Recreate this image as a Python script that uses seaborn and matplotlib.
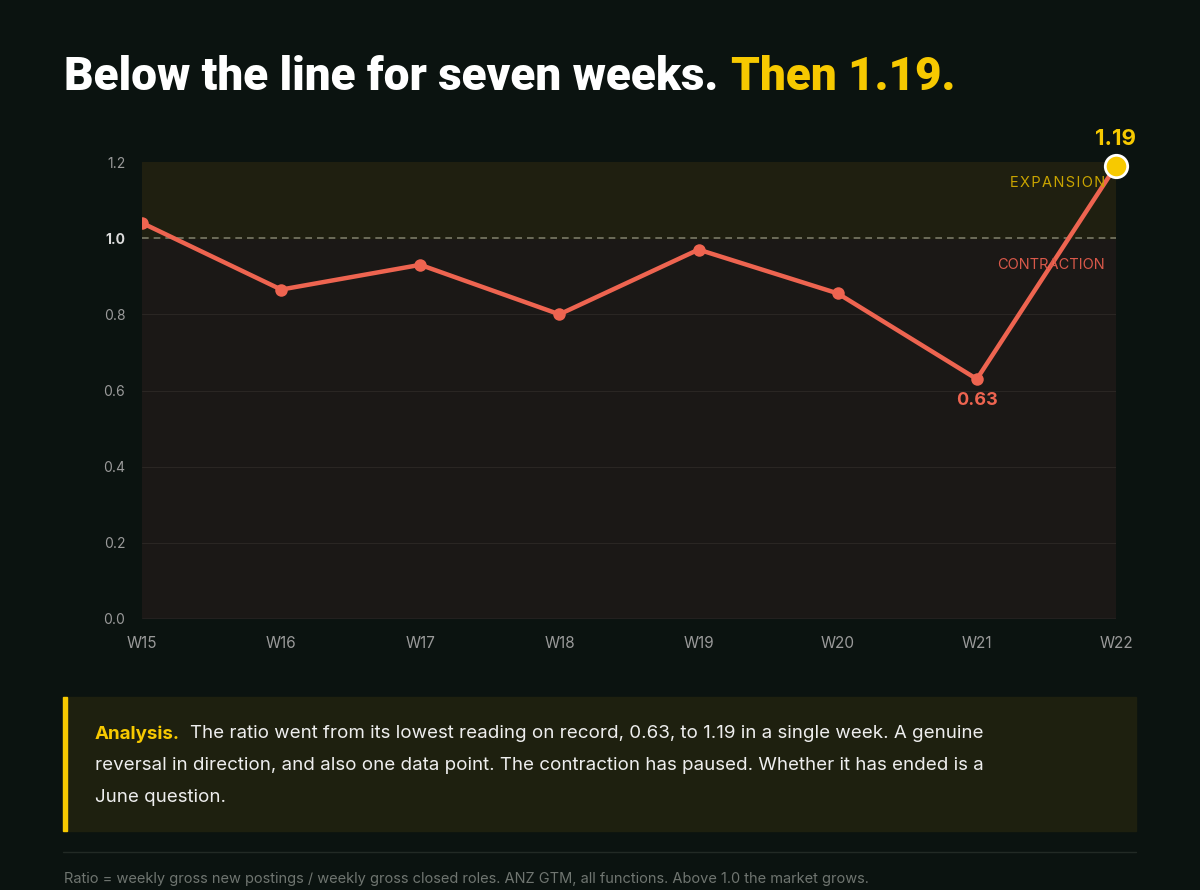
import matplotlib
matplotlib.use("Agg")
import matplotlib.pyplot as plt
import seaborn as sns
import pandas as pd
from matplotlib.patches import Rectangle

weeks = ["W15", "W16", "W17", "W18", "W19", "W20", "W21", "W22"]
ratio = [1.04, 0.865, 0.93, 0.80, 0.97, 0.855, 0.63, 1.19]
yticks = [0.0, 0.2, 0.4, 0.6, 0.8, 1.0, 1.2]

BG = "#0b1310"
RED = "#ee6450"
YEL = "#f7c900"
sns.set_style("dark")
plt.rcParams['font.family'] = ['Inter', 'DejaVu Sans']

fig = plt.figure(figsize=(12, 8.9), dpi=100, facecolor=BG)
ax = fig.add_axes([142/1200, 1-619/890, (1116-142)/1200, (619-162)/890])
ax.set_facecolor("#1b1816")
df = pd.DataFrame({"x": range(len(weeks)), "y": ratio})
ax.axhspan(1.0, 1.2, color="#1f1f10", zorder=0)
for t in yticks[1:-1]:
    if t != 1.0:
        ax.axhline(t, color="#2a2623", lw=0.8, zorder=1)
ax.axhline(1.0, color="#7a7a66", lw=1.2, ls=(0, (4, 3)), zorder=1)
ax.axhline(0.0, color="#444", lw=1, zorder=1)
sns.lineplot(data=df, x="x", y="y", ax=ax, color=RED, lw=3.2, marker="o",
             markersize=9, markeredgewidth=0, zorder=3)
ax.scatter([df.x.iloc[-1]], [df.y.iloc[-1]], s=260, color=YEL, edgecolor="white",
           linewidth=2, zorder=5, clip_on=False)
ax.set_xlim(0, len(weeks) - 1)
ax.set_ylim(0, 1.2)
ax.set_xticks(range(len(weeks)))
ax.set_xticklabels(weeks, color="#9a9a9a", fontsize=11)
ax.set_yticks(yticks)
ax.set_yticklabels([f"{t:.1f}" for t in yticks], color="#9a9a9a", fontsize=10)
for lab in ax.get_yticklabels():
    if lab.get_text() == "1.0":
        lab.set_color("#dddddd"); lab.set_fontweight("bold")
ax.tick_params(length=0, pad=12)
ax.set_xlabel(""); ax.set_ylabel("")
for s in ax.spines.values():
    s.set_visible(False)
ax.grid(False)

ax.text(6, ratio[6] - 0.035, "0.63", color=RED, fontsize=13, fontweight="bold",
        ha="center", va="top")
ax.text(7, ratio[7] + 0.045, "1.19", color=YEL, fontsize=16, fontweight="bold",
        ha="center", va="bottom", clip_on=False)
ax.text(6.92, 1.145, "E X P A N S I O N".replace(" ", "\u200a"), color="#c9a400", fontsize=10.5, ha="right", va="center")
ax.text(6.92, 0.93, "CONTRACTION", color="#d9584a", fontsize=10.5, ha="right", va="center")

t1 = fig.text(64/1200, 1-77/890, "Below the line for seven weeks.", color="white",
              fontsize=33, fontweight="black", family=["Roboto", "DejaVu Sans"], va="center")
fig.canvas.draw()
bb = t1.get_window_extent()
fig.text((bb.x1 + 13) / 1200, 1-77/890, "Then 1.19.", color=YEL, fontsize=33,
         fontweight="black", family=["Roboto", "DejaVu Sans"], va="center")

fig.patches.append(Rectangle((63/1200, 1-831/890), (1136-63)/1200, 134/890,
                             transform=fig.transFigure, color="#1e200f", zorder=0))
fig.patches.append(Rectangle((63/1200, 1-831/890), 4/1200, 134/890,
                             transform=fig.transFigure, color=YEL, zorder=1))
fig.text(95/1200, 1-734/890, "Analysis.", color=YEL, fontsize=13.5, fontweight="bold", va="center")
lines = ["The ratio went from its lowest reading on record, 0.63, to 1.19 in a single week. A genuine",
         "reversal in direction, and also one data point. The contraction has paused. Whether it has ended is a",
         "June question."]
fig.text(190/1200, 1-734/890, lines[0], color="#eeeeee", fontsize=13.5, va="center")
fig.text(95/1200, 1-766/890, lines[1], color="#eeeeee", fontsize=13.5, va="center")
fig.text(95/1200, 1-798/890, lines[2], color="#eeeeee", fontsize=13.5, va="center")

fig.add_artist(plt.Line2D([63/1200, 1136/1200], [1-852/890]*2, color="#222a25", lw=1))
fig.text(64/1200, 1-879/890, "Ratio = weekly gross new postings / weekly gross closed roles. ANZ GTM, all functions. Above 1.0 the market grows.",
         color="#6f7570", fontsize=10.5, va="center")

fig.savefig("out.png", dpi=100, facecolor=BG)
